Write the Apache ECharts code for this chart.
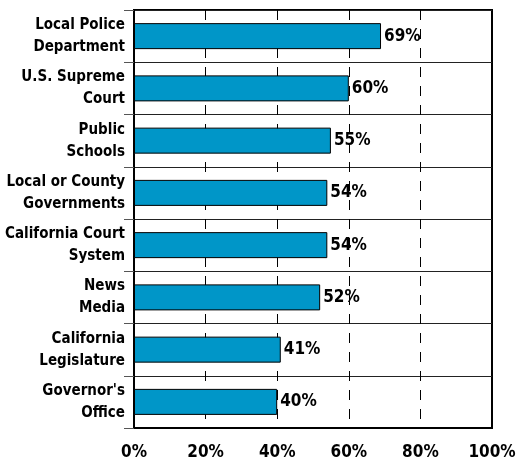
<!DOCTYPE html>
<html>
<head>
<meta charset="utf-8">
<script src="https://cdn.jsdelivr.net/npm/echarts@6/dist/echarts.min.js"></script>
<style>
  html, body { margin: 0; padding: 0; background: #fff; }
  #chart { width: 517px; height: 463px; }
</style>
</head>
<body>
<div id="chart"></div>
<script>
var chart = echarts.init(document.getElementById('chart'), null, { renderer: 'canvas' });

// institutions, top to bottom
var institutions = [
    'Local Police\nDepartment',
    'U.S. Supreme\nCourt',
    'Public\nSchools',
    'Local or County\nGovernments',
    'California Court\nSystem',
    'News\nMedia',
    'California\nLegislature',
    "Governor's\nOffice"
];
// percent values
var confidence = [69, 60, 55, 54, 54, 52, 41, 40];
var tickStep = 20;

var fontFam = "'DejaVu Sans Condensed', sans-serif";

chart.setOption({
    animation: false,
    grid: {
        left: 134,
        right: 25,
        top: 10,
        bottom: 35,
        containLabel: false,
        outerBoundsMode: 'none',
        show: true,
        borderColor: '#000',
        borderWidth: 2,
        backgroundColor: 'transparent'
    },
    xAxis: {
        type: 'value',
        min: 0,
        max: 100,
        interval: tickStep,
        axisLine: { show: true, lineStyle: { color: '#000', width: 2 } },
        axisTick: { show: false },
        axisLabel: {
            formatter: '{value}%',
            color: '#000',
            fontFamily: fontFam,
            fontWeight: 'bold',
            fontSize: 17,
            margin: 16
        },
        splitLine: {
            show: true,
            lineStyle: { color: '#000', width: 1, type: [10, 9] }
        }
    },
    yAxis: {
        type: 'category',
        inverse: true,
        data: institutions,
        axisLine: { show: true, lineStyle: { color: '#000', width: 2 } },
        axisTick: { show: true, length: 10, interval: 0, lineStyle: { color: '#555', width: 1 } },
        axisLabel: {
            interval: 0,
            color: '#000',
            fontFamily: fontFam,
            fontWeight: 'bold',
            fontSize: 15,
            lineHeight: 22,
            align: 'right',
            margin: 9,
            padding: [6, 0, 0, 0]
        },
        splitLine: { show: true, interval: 0, lineStyle: { color: '#222', width: 1 } }
    },
    series: [{
        type: 'bar',
        data: confidence,
        barWidth: 26,
        itemStyle: { color: '#0096c8', borderColor: '#000', borderWidth: 1 },
        label: {
            show: true,
            position: 'right',
            distance: 3,
            formatter: '{c}%',
            color: '#000',
            fontFamily: fontFam,
            fontWeight: 'bold',
            fontSize: 17
        }
    }]
});
</script>
</body>
</html>
